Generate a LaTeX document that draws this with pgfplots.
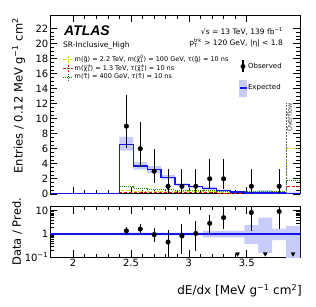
\documentclass[border=0pt]{standalone}
\usepackage{fontspec}
\setmainfont{DejaVu Sans}
\newfontfamily\helv{Liberation Sans}
\usepackage{pgfplots}
\pgfplotsset{compat=1.18}

\definecolor{bandc}{RGB}{200,204,250}
\definecolor{expblue}{RGB}{20,20,235}
\definecolor{sigyel}{RGB}{222,216,20}
\definecolor{sigred}{RGB}{228,20,20}
\definecolor{siggrn}{RGB}{20,140,20}

\newcommand{\ssub}[2]{\makebox[0pt][l]{\textsuperscript{#1}}\textsubscript{#2}}

\pgfplotsset{
  atlasaxis/.style={
    scale only axis, width=250pt,
    xmin=1.8, xmax=3.96,
    xtick={2,2.5,3,3.5}, minor x tick num=4,
    tick align=inside, xtick pos=both, ytick pos=both,
    xticklabel pos=lower, yticklabel pos=left,
    major tick length=7pt, minor tick length=3.5pt,
    every tick/.style={black, line width=0.6pt},
    axis line style={line width=0.7pt},
    ticklabel style={font=\fontsize{10}{12}\selectfont},
    yticklabel style={inner sep=1.5pt},
    xticklabel style={inner sep=1.5pt},
    /pgf/number format/assume math mode=true,
  }
}

\begin{document}
\begin{tikzpicture}[x=1pt,y=1pt]
\path[use as bounding box] (0,0) rectangle (316,306);

% ---------------- upper panel ----------------
\begin{axis}[atlasaxis,
  at={(50pt,112.2pt)}, anchor=south west, height=178.8pt,
  ymin=0, ymax=23.8,
  xticklabels={},
  ytick={0,2,...,22}, minor y tick num=3,
  ylabel={Entries / 0.12 MeV g\textsuperscript{−1} cm\textsuperscript{2}},
  ylabel style={at={(axis description cs:-0.152,0.985)}, anchor=north east, inner sep=0pt, font=\fontsize{11.5}{13}\selectfont},
  legend style={at={(axis description cs:0.05,0.78)}, anchor=north west, draw=none, fill=none,
    font=\fontsize{6.5}{7.5}\selectfont, row sep=0pt, inner sep=0pt,
    nodes={inner sep=1pt}},
  legend cell align=left,
]
% expected uncertainty band
\addplot[fill=bandc, draw=none, forget plot] coordinates {
 (2.4,7.59)(2.52,7.59)(2.52,4.26)(2.64,4.26)(2.64,3.68)(2.76,3.68)(2.76,2.53)(2.88,2.53)
 (2.88,1.38)(3.0,1.38)(3.0,1.09)(3.12,1.09)(3.12,0.95)(3.24,0.95)(3.24,0.54)(3.36,0.54)
 (3.36,0.34)(3.48,0.34)(3.48,0.29)(3.6,0.29)(3.6,0.5)(3.72,0.5)(3.72,0.19)(3.84,0.19)
 (3.84,0.18)(3.96,0.18)
 (3.96,0.01)(3.84,0.01)(3.84,0.06)(3.72,0.06)(3.72,0.015)(3.6,0.015)(3.6,0.05)(3.48,0.05)
 (3.48,0.18)(3.36,0.18)(3.36,0.29)(3.24,0.29)(3.24,0.5)(3.12,0.5)(3.12,0.83)(3.0,0.83)
 (3.0,1.04)(2.88,1.04)(2.88,1.91)(2.76,1.91)(2.76,2.78)(2.64,2.78)(2.64,3.22)(2.52,3.22)
 (2.52,5.74)(2.4,5.74)};
% signals
\addplot[sigyel, line width=1pt, const plot mark left, dash pattern=on 3pt off 1.5pt on 0.8pt off 1.5pt,
  legend image code/.code={\draw[sigyel,line width=1pt] (0pt,0pt)--(10pt,0pt); \draw[sigyel,line width=1pt] (5pt,-3.5pt)--(5pt,3.5pt);}]
 coordinates {(1.8,0)(2.4,0.5)(2.52,0.35)(2.64,0.3)(2.76,0.3)(2.88,0.28)(3.0,0.25)(3.12,0.25)(3.24,0.22)(3.36,0.2)(3.48,0.2)(3.6,0.2)(3.72,0.25)(3.84,6.0)(3.96,6.0)};
\addlegendentry{m(g̃) = 2.2 TeV, m(χ̃\ssub{0}{1}) = 100 GeV, τ(g̃) = 10 ns}
\addplot[sigred, line width=1pt, const plot mark left, dash pattern=on 3pt off 2pt,
  legend image code/.code={\draw[sigred,line width=1pt,dash pattern=on 2.5pt off 1.5pt] (0pt,0pt)--(10pt,0pt); \draw[sigred,line width=1pt,dash pattern=on 1.5pt off 1pt] (5pt,-3.5pt)--(5pt,3.5pt);}]
 coordinates {(1.8,0)(2.4,0.15)(2.52,0.12)(2.64,0.12)(2.76,0.12)(2.88,0.12)(3.0,0.12)(3.12,0.12)(3.24,0.1)(3.36,0.1)(3.48,0.1)(3.6,0.1)(3.72,0.15)(3.84,1.0)(3.96,1.0)};
\addlegendentry{m(χ̃\ssub{±}{1}) = 1.3 TeV, τ(χ̃\ssub{±}{1}) = 10 ns}
\addplot[siggrn, line width=1pt, const plot mark left, dash pattern=on 1pt off 1pt,
  legend image code/.code={\draw[siggrn,line width=1pt,dash pattern=on 1pt off 1pt] (0pt,0pt)--(10pt,0pt); \draw[siggrn,line width=1pt,dash pattern=on 1pt off 1pt] (5pt,-3.5pt)--(5pt,3.5pt);}]
 coordinates {(1.8,0)(2.4,1.0)(2.52,0.7)(2.64,0.6)(2.76,0.55)(2.88,0.5)(3.0,0.45)(3.12,0.4)(3.24,0.3)(3.36,0.25)(3.48,0.25)(3.6,0.25)(3.72,0.3)(3.84,1.8)(3.96,1.8)};
\addlegendentry{m(τ̃) =  400 GeV, τ(τ̃) = 10 ns}
% expected
\addplot[expblue, line width=1.3pt, const plot mark left, forget plot]
 coordinates {(1.8,0)(2.4,6.6)(2.52,3.7)(2.64,3.2)(2.76,2.2)(2.88,1.2)(3.0,0.95)(3.12,0.7)(3.24,0.4)(3.36,0.25)(3.48,0.12)(3.6,0.1)(3.72,0.11)(3.84,0.08)(3.96,0.08)};
% observed
\addplot[black, only marks, mark=*, mark size=2.3pt, forget plot,
  error bars/.cd, y dir=both, y explicit, error mark=none, error bar style={line width=1.1pt, black}]
 coordinates {
 (2.46,9) += (0,4.1) -= (0,2.9)
 (2.58,6) += (0,3.6) -= (0,2.4)
 (2.70,3) += (0,2.9) -= (0,1.6)
 (2.82,1) += (0,2.3) -= (0,0.83)
 (2.94,1) += (0,2.3) -= (0,0.83)
 (3.06,1) += (0,2.3) -= (0,0.83)
 (3.18,2) += (0,2.6) -= (0,1.3)
 (3.30,2) += (0,2.6) -= (0,1.3)
 (3.54,1) += (0,2.3) -= (0,0.83)
 (3.78,1) += (0,2.3) -= (0,0.83)};
% overflow marker
\draw[densely dotted, black!60, line width=0.5pt] (axis cs:3.84,0) -- (axis cs:3.84,12.1);
\node[rotate=90, anchor=north east, inner sep=0.6pt, font=\fontsize{6.5}{7}\selectfont, text=black!75] at (axis cs:3.84,12.2) {Overflow};
% texts
\node[anchor=west, inner sep=0pt, font=\helv\fontsize{14}{16}\selectfont\bfseries\itshape] at (axis description cs:0.056,0.9105) {ATLAS};
\node[anchor=west, inner sep=0pt, font=\fontsize{7.5}{9}\selectfont] at (axis description cs:0.052,0.8305) {SR-Inclusive\_High};
\node[anchor=east, inner sep=0pt, font=\fontsize{7.5}{9}\selectfont] at (axis description cs:0.932,0.905) {√s = 13 TeV,  139 fb\textsuperscript{−1}};
\node[anchor=east, inner sep=0pt, font=\fontsize{7.5}{9}\selectfont] at (axis description cs:0.932,0.8417) {p\makebox[0pt][l]{\textsubscript{T}}\textsuperscript{trk} > 120 GeV, |η| < 1.8};
\end{axis}

% second legend (Observed / Expected)
\begin{axis}[at={(50pt,112.2pt)}, anchor=south west, scale only axis, width=250pt, height=178.8pt,
  hide axis, xmin=0, xmax=1, ymin=0, ymax=1,
  legend style={at={(axis description cs:0.755,0.75)}, anchor=north west, draw=none, fill=none,
    font=\fontsize{7}{8.5}\selectfont, row sep=7pt, inner sep=0pt, nodes={inner sep=1pt}},
  legend cell align=left]
\addlegendimage{legend image code/.code={\draw[black,line width=1.1pt] (3.5pt,-6pt)--(3.5pt,6pt); \fill[black] (3.5pt,0pt) circle (2.2pt);}}
\addlegendentry{Observed}
\addlegendimage{legend image code/.code={\fill[bandc] (0pt,-7.8pt) rectangle (7pt,7.8pt); \draw[expblue,line width=1.1pt] (0pt,0pt)--(7pt,0pt);}}
\addlegendentry{Expected}
\end{axis}

% ---------------- ratio panel ----------------
\begin{axis}[atlasaxis,
  at={(50pt,48.7pt)}, anchor=south west, height=50.8pt,
  ymode=log, ymin=0.1, ymax=15,
  xticklabels={2,2.5,3,3.5},
  ytick={0.1,1,10}, yticklabels={10\textsuperscript{−1},1,10},
  minor ytick={0.2,0.3,0.4,0.5,0.6,0.7,0.8,0.9,2,3,4,5,6,7,8,9},
  xlabel={dE/dx [MeV g\textsuperscript{−1} cm\textsuperscript{2}]},
  xlabel style={at={(axis description cs:1.008,-0.53)}, anchor=north east, inner sep=0pt, font=\fontsize{12}{14}\selectfont},
  ylabel={Data / Pred.},
  ylabel style={at={(axis description cs:-0.152,0.5)}, anchor=north, inner sep=0pt, font=\fontsize{11.5}{13}\selectfont},
]
\addplot[fill=bandc, draw=none] coordinates {
 (2.4,1.15)(3.12,1.15)(3.12,1.35)(3.48,1.35)(3.48,2.4)(3.6,2.4)(3.6,5)(3.72,5)(3.72,1.7)(3.84,1.7)(3.84,2.2)(3.96,2.2)
 (3.96,0.09)(3.84,0.09)(3.84,0.55)(3.72,0.55)(3.72,0.15)(3.6,0.15)(3.6,0.38)(3.48,0.38)(3.48,0.72)(3.12,0.72)(3.12,0.87)(2.4,0.87)};
\addplot[expblue, line width=1.2pt] coordinates {(1.8,1) (3.96,1)};
\addplot[black, only marks, mark=*, mark size=2.3pt,
  error bars/.cd, y dir=both, y explicit, error mark=none, error bar style={line width=1.1pt, black}]
 coordinates {
 (2.46,1.36) += (0,0.62) -= (0,0.44)
 (2.58,1.62) += (0,0.97) -= (0,0.65)
 (2.70,0.94) += (0,0.9) -= (0,0.5)
 (2.82,0.45) += (0,1.05) -= (0,0.37)
 (2.94,0.83) += (0,1.9) -= (0,0.69)
 (3.06,1.05) += (0,2.4) -= (0,0.87)
 (3.18,2.86) += (0,3.7) -= (0,1.86)
 (3.30,5.0) += (0,6.5) -= (0,3.3)
 (3.54,8.3) += (0,19) -= (0,6.9)
 (3.78,9.1) += (0,21) -= (0,7.5)};
\addplot[black, only marks, mark=triangle*, mark size=2.3pt, mark options={rotate=180}]
 coordinates {(3.42,0.14)(3.66,0.14)(3.90,0.14)};
\end{axis}
\end{tikzpicture}
\end{document}
